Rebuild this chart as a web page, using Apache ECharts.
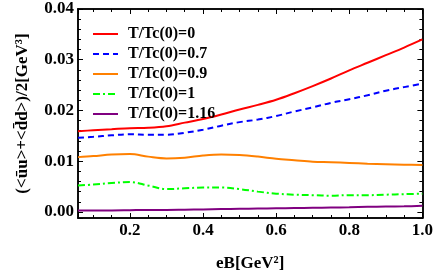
<!DOCTYPE html>
<html>
<head>
<meta charset="utf-8">
<script src="https://cdn.jsdelivr.net/npm/echarts@6/dist/echarts.min.js"></script>
<style>html,body{margin:0;padding:0;background:#fff}#c{width:436px;height:277px}</style>
</head>
<body>
<div id="c"></div>
<script>
// eB values [GeV^2]
const eB = [0.058, 0.1, 0.15, 0.2, 0.25, 0.3, 0.35, 0.4, 0.45, 0.5, 0.55, 0.6, 0.65, 0.7, 0.75, 0.8, 0.85, 0.9, 0.95, 1.0];
const seriesNames = ['T/Tc(0)=0', 'T/Tc(0)=0.7', 'T/Tc(0)=0.9', 'T/Tc(0)=1', 'T/Tc(0)=1.16'];
const t0    = [0.0159, 0.0161, 0.0163, 0.0165, 0.0166, 0.0169, 0.0176, 0.0183, 0.0192, 0.0202, 0.0211, 0.0221, 0.0234, 0.0248, 0.0263, 0.0279, 0.0294, 0.0309, 0.0324, 0.0340];
const t07   = [0.0146, 0.0148, 0.0151, 0.0153, 0.0152, 0.0152, 0.0156, 0.0162, 0.0170, 0.0177, 0.0182, 0.0189, 0.0198, 0.0206, 0.0215, 0.0222, 0.0230, 0.0239, 0.0246, 0.0253];
const t09   = [0.0108, 0.0110, 0.0113, 0.0114, 0.0109, 0.01055, 0.0107, 0.0111, 0.0113, 0.0112, 0.0109, 0.0105, 0.0102, 0.0099, 0.0098, 0.00965, 0.0095, 0.0094, 0.0093, 0.00925];
const t1    = [0.0052, 0.0054, 0.0057, 0.0059, 0.0052, 0.0045, 0.00465, 0.0048, 0.0048, 0.0045, 0.0040, 0.0036, 0.0034, 0.0033, 0.0032, 0.0033, 0.0033, 0.0034, 0.0035, 0.0036];
const t116  = [0.0003, 0.0003, 0.0003, 0.00035, 0.0004, 0.0004, 0.00045, 0.0005, 0.00055, 0.0006, 0.00065, 0.0007, 0.00075, 0.0008, 0.00085, 0.0009, 0.001, 0.00105, 0.0011, 0.0012];
const xTickLabels = ['0.2', '0.4', '0.6', '0.8', '1.0'];
const yTickLabels = ['0.00', '0.01', '0.02', '0.03', '0.04'];

const values = [t0, t07, t09, t1, t116];
const colors = ['#ff0000', '#0000ff', '#ff8000', '#00ff00', '#800080'];
const dashes = ['solid', [6, 4], 'solid', [7, 3, 2, 3], 'solid'];

const font = 'Liberation Serif';
const X_MIN = 0.058, X_MAX = 1.0, Y_MIN = -0.0012, Y_MAX = 0.04;

function near(v, step) { return Math.abs(v / step - Math.round(v / step)) < 1e-6; }
function xLabel(v) {
  const s = v.toFixed(1);
  return near(v, 0.2) && xTickLabels.indexOf(s) >= 0 ? s : '';
}
function yLabel(v) {
  const s = Math.abs(v) < 1e-9 ? '0.00' : v.toFixed(2);
  return near(v, 0.01) && yTickLabels.indexOf(s) >= 0 ? s : '';
}

const line = { show: true, onZero: false, lineStyle: { color: '#000', width: 1.5 } };
function xAx(pos, step, len, labels, name) {
  const a = {
    type: 'value', position: pos, min: X_MIN, max: X_MAX, gridIndex: 0,
    splitNumber: Math.round((X_MAX - X_MIN) / step),
    minInterval: step, maxInterval: step,
    axisLine: line,
    axisTick: { show: true, inside: true, length: len, lineStyle: { color: '#000', width: 1 } },
    axisLabel: labels ? { show: true, formatter: xLabel, margin: 4, color: '#000', fontFamily: font, fontWeight: 'bold', fontSize: 17 } : { show: false },
    splitLine: { show: false }
  };
  if (name) {
    a.name = name; a.nameLocation = 'middle'; a.nameGap = 37;
    a.nameTextStyle = { color: '#000', fontFamily: font, fontWeight: 'bold', fontSize: 17 };
  }
  return a;
}
function yAx(pos, step, len, labels, name) {
  const a = {
    type: 'value', position: pos, min: Y_MIN, max: Y_MAX, gridIndex: 0,
    splitNumber: Math.round((Y_MAX - Y_MIN) / step),
    minInterval: step, maxInterval: step,
    axisLine: line,
    axisTick: { show: true, inside: true, length: len, lineStyle: { color: '#000', width: 1 } },
    axisLabel: labels ? { show: true, formatter: yLabel, margin: 4, color: '#000', fontFamily: font, fontWeight: 'bold', fontSize: 17 } : { show: false },
    splitLine: { show: false }
  };
  if (name) {
    a.name = name; a.nameLocation = 'middle'; a.nameGap = 47; a.nameRotate = 90;
    a.nameTextStyle = { color: '#000', fontFamily: font, fontWeight: 'bold', fontSize: 17 };
  }
  return a;
}

const series = seriesNames.map((n, i) => ({
  name: n, type: 'line', xAxisIndex: 0, yAxisIndex: 0,
  data: eB.map((x, j) => [x, values[i][j]]),
  showSymbol: false, symbol: 'none', smooth: 0.35,
  lineStyle: { color: colors[i], width: 2, type: dashes[i] },
  itemStyle: { color: colors[i] }
}));

const chart = echarts.init(document.getElementById('c'), null, { renderer: 'canvas' });
chart.setOption({
  backgroundColor: '#fff',
  animation: false,
  grid: { left: 78, right: 13, top: 9, bottom: 56, containLabel: false },
  legend: {
    orient: 'vertical', left: 92, top: 26, padding: 0,
    itemWidth: 25, itemHeight: 14, itemGap: 4,
    data: seriesNames,
    itemStyle: { color: 'rgba(0,0,0,0)', borderWidth: 0, opacity: 0 },
    textStyle: { color: '#000', fontFamily: font, fontWeight: 'bold', fontSize: 16, padding: [0, 0, 0, 5] }
  },
  xAxis: [
    xAx('bottom', 0.2, 5, true, 'eB[GeV²]'),
    xAx('bottom', 0.05, 3, false),
    xAx('top', 0.2, 5, false),
    xAx('top', 0.05, 3, false)
  ],
  yAxis: [
    yAx('left', 0.01, 5, true, '(<\u016Bu>+<d\u0304d>)/2[GeV³]'),
    yAx('left', 0.002, 3, false),
    yAx('right', 0.01, 5, false),
    yAx('right', 0.002, 3, false)
  ],
  series: series
});
</script>
</body>
</html>
